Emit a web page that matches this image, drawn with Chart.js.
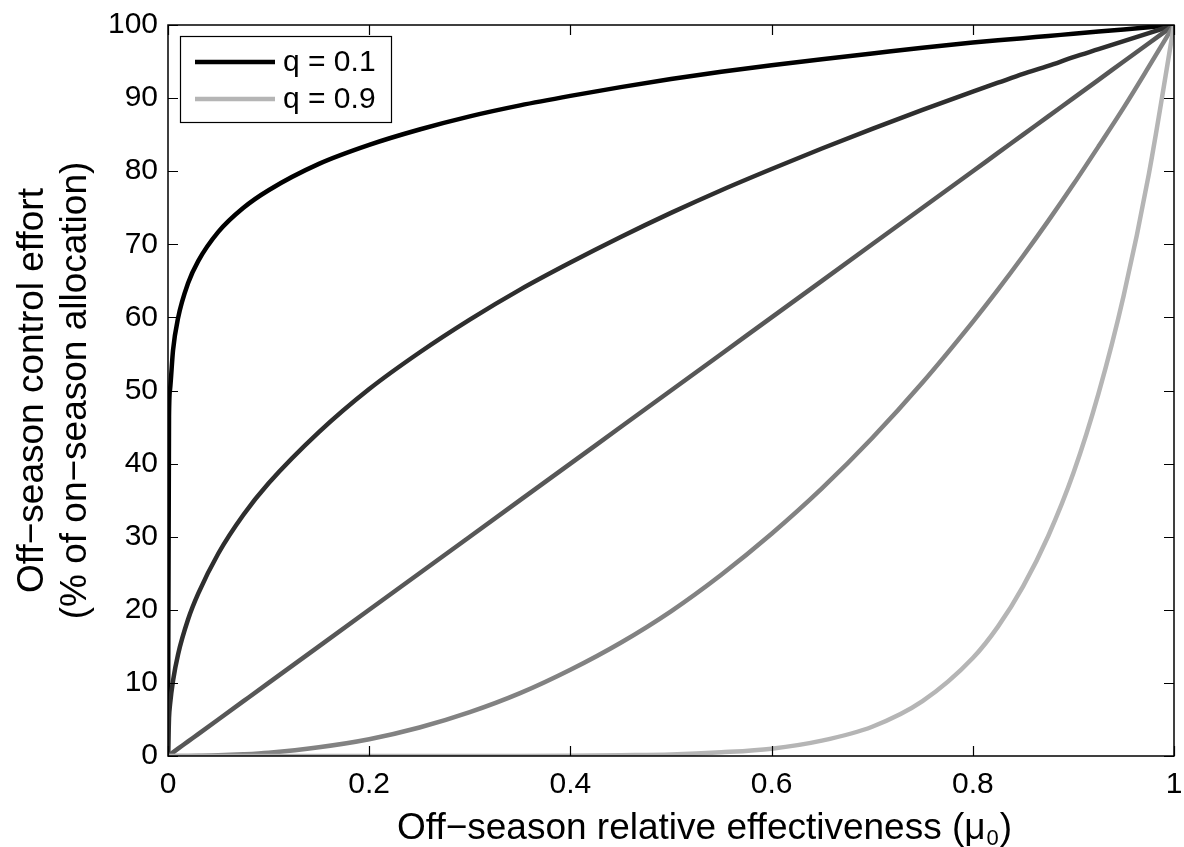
<!DOCTYPE html>
<html>
<head>
<meta charset="utf-8">
<script src="https://cdn.jsdelivr.net/npm/chart.js@4/dist/chart.umd.min.js"></script>
<style>
  html, body { margin: 0; padding: 0; background: #fff; }
  #wrap { width: 1184px; height: 847px; }
</style>
</head>
<body>
<div id="wrap"><canvas id="chart" width="1184" height="847"></canvas></div>
<script>
// off-season relative effectiveness (mu0)
const mu0 = [0, 0.001, 0.002, 0.005, 0.01, 0.02, 0.03, 0.05, 0.075, 0.1, 0.15, 0.2, 0.25, 0.3, 0.35, 0.4,
  0.45, 0.5, 0.55, 0.6, 0.65, 0.7, 0.75, 0.8, 0.825, 0.85, 0.875, 0.9, 0.925, 0.95, 0.975, 1];

// off-season control effort, % of on-season allocation
const effort_q01 = [0, 46.4, 50.1, 55.5, 59.9, 64.7, 67.7, 71.7, 75.0, 77.4, 81.0, 83.6, 85.7, 87.5, 89.0, 90.3,
  91.5, 92.6, 93.6, 94.5, 95.3, 96.1, 96.9, 97.6, 97.9, 98.2, 98.5, 98.8, 99.1, 99.4, 99.7, 100];
const effort_q03 = [0, 5.2, 7.0, 10.3, 13.9, 18.7, 22.2, 27.7, 33.0, 37.3, 44.3, 50.2, 55.2, 59.7, 63.8, 67.5,
  71.0, 74.3, 77.4, 80.3, 83.1, 85.8, 88.4, 90.9, 92.1, 93.3, 94.4, 95.6, 96.7, 97.8, 98.9, 100];
const effort_q05 = [0, 0.1, 0.2, 0.5, 1, 2, 3, 5, 7.5, 10, 15, 20, 25, 30, 35, 40,
  45, 50, 55, 60, 65, 70, 75, 80, 82.5, 85, 87.5, 90, 92.5, 95, 97.5, 100];
const effort_q07 = [0, 0, 0, 0, 0, 0.01, 0.03, 0.09, 0.24, 0.46, 1.2, 2.3, 3.9, 6.0, 8.6, 11.8,
  15.5, 19.8, 24.8, 30.4, 36.6, 43.5, 51.1, 59.4, 63.8, 68.4, 73.2, 78.2, 83.4, 88.7, 94.3, 100];
const effort_q09 = [0, 0, 0, 0, 0, 0, 0, 0, 0, 0, 0, 0, 0, 0, 0, 0.03,
  0.1, 0.2, 0.5, 1.0, 2.1, 4.0, 7.5, 13.4, 17.7, 23.2, 30.1, 38.7, 49.6, 63.0, 79.6, 100];

const xTicks = [0, 0.2, 0.4, 0.6, 0.8, 1];
const yTicks = [0, 10, 20, 30, 40, 50, 60, 70, 80, 90, 100];
const legendLabels = ['q = 0.1', 'q = 0.9'];
const legendColors = ['#000000', '#b5b5b5'];

function pts(ys) {
  return mu0.map((x, i) => ({ x: x, y: ys[i] }));
}

function series(label, ys, color) {
  return {
    label: label,
    data: pts(ys),
    borderColor: color,
    borderWidth: 4.5,
    pointRadius: 0,
    fill: false,
    cubicInterpolationMode: 'monotone',
    borderCapStyle: 'round'
  };
}

const FONT = '"Liberation Sans", Arial, Helvetica, sans-serif';

// MATLAB style box with inward ticks, titles and legend
const matlabAxes = {
  id: 'matlabAxes',
  afterDatasetsDraw(chart) {
    const ctx = chart.ctx;
    const a = chart.chartArea;
    const xs = chart.scales.x, ys = chart.scales.y;
    const tl = 10;
    ctx.save();
    ctx.strokeStyle = '#000';
    ctx.lineWidth = 1.5;
    ctx.strokeRect(a.left, a.top, a.right - a.left, a.bottom - a.top);
    ctx.beginPath();
    xTicks.forEach(v => {
      const px = Math.round(xs.getPixelForValue(v)) + 0.5;
      ctx.moveTo(px, a.bottom); ctx.lineTo(px, a.bottom - tl);
      ctx.moveTo(px, a.top); ctx.lineTo(px, a.top + tl);
    });
    yTicks.forEach(v => {
      const py = Math.round(ys.getPixelForValue(v)) + 0.5;
      ctx.moveTo(a.left, py); ctx.lineTo(a.left + tl, py);
      ctx.moveTo(a.right, py); ctx.lineTo(a.right - tl, py);
    });
    ctx.lineWidth = 1.2;
    ctx.stroke();

    // axis titles
    ctx.fillStyle = '#000';
    ctx.font = '37px ' + FONT;
    ctx.textAlign = 'left';
    ctx.textBaseline = 'alphabetic';
    const xt = 'Off\u2212season relative effectiveness (\u03bc';
    const w1 = ctx.measureText(xt).width;
    ctx.font = '22px ' + FONT;
    const w2 = ctx.measureText('0').width;
    const sx = 397;
    const by = 839;
    ctx.font = '37px ' + FONT;
    ctx.fillText(xt, sx, by);
    ctx.font = '22px ' + FONT;
    ctx.fillText('0', sx + w1 + 1, by + 6);
    ctx.font = '37px ' + FONT;
    ctx.fillText(')', sx + w1 + w2 + 2, by);

    ctx.save();
    ctx.translate(0, (a.top + a.bottom) / 2);
    ctx.rotate(-Math.PI / 2);
    ctx.textAlign = 'center';
    ctx.fillText('Off\u2212season control effort', 0, 43);
    ctx.fillText('(% of on\u2212season allocation)', 0, 86);
    ctx.restore();

    // legend
    const lx = 180, ly = 36, lw = 211, lh = 86;
    ctx.fillStyle = '#fff';
    ctx.fillRect(lx, ly, lw, lh);
    ctx.strokeStyle = '#000';
    ctx.lineWidth = 1.2;
    ctx.strokeRect(lx + 0.5, ly + 0.5, lw, lh);
    legendLabels.forEach((lab, i) => {
      const yy = ly + 26 + i * 37;
      ctx.strokeStyle = legendColors[i];
      ctx.lineWidth = 4.5;
      ctx.beginPath();
      ctx.moveTo(lx + 15, yy); ctx.lineTo(lx + 95, yy);
      ctx.stroke();
      ctx.fillStyle = '#000';
      ctx.font = '30px ' + FONT;
      ctx.textAlign = 'left';
      ctx.textBaseline = 'middle';
      ctx.fillText(lab, lx + 103, yy + 1);
    });
    ctx.restore();
  }
};

const datasets = [
  series('q = 0.9', effort_q09, '#b5b5b5'),
  series('q = 0.7', effort_q07, '#828282'),
  series('q = 0.5', effort_q05, '#575757'),
  series('q = 0.3', effort_q03, '#2e2e2e'),
  series('q = 0.1', effort_q01, '#000000')
];

new Chart(document.getElementById('chart').getContext('2d'), {
  type: 'line',
  data: { datasets: datasets },
  options: {
    responsive: false,
    animation: false,
    layout: { padding: { left: 0, top: 25, right: 10, bottom: 0 } },
    plugins: { legend: { display: false }, tooltip: { enabled: false } },
    scales: {
      x: {
        type: 'linear', min: 0, max: 1,
        afterBuildTicks: s => { s.ticks = xTicks.map(v => ({ value: v })); },
        afterFit: s => { s.height = 91; s.paddingLeft = 0; s.paddingRight = 0; },
        grid: { display: false, drawTicks: false },
        border: { display: false },
        ticks: {
          color: '#000', padding: 11, maxRotation: 0,
          font: { family: FONT, size: 30 },
          callback: v => String(v)
        }
      },
      y: {
        type: 'linear', min: 0, max: 100,
        afterBuildTicks: s => { s.ticks = yTicks.map(v => ({ value: v })); },
        afterFit: s => { s.width = 168; s.paddingTop = 0; s.paddingBottom = 0; },
        grid: { display: false, drawTicks: false },
        border: { display: false },
        ticks: {
          color: '#000', padding: 10,
          font: { family: FONT, size: 30 }
        }
      }
    }
  },
  plugins: [matlabAxes]
});
</script>
</body>
</html>
